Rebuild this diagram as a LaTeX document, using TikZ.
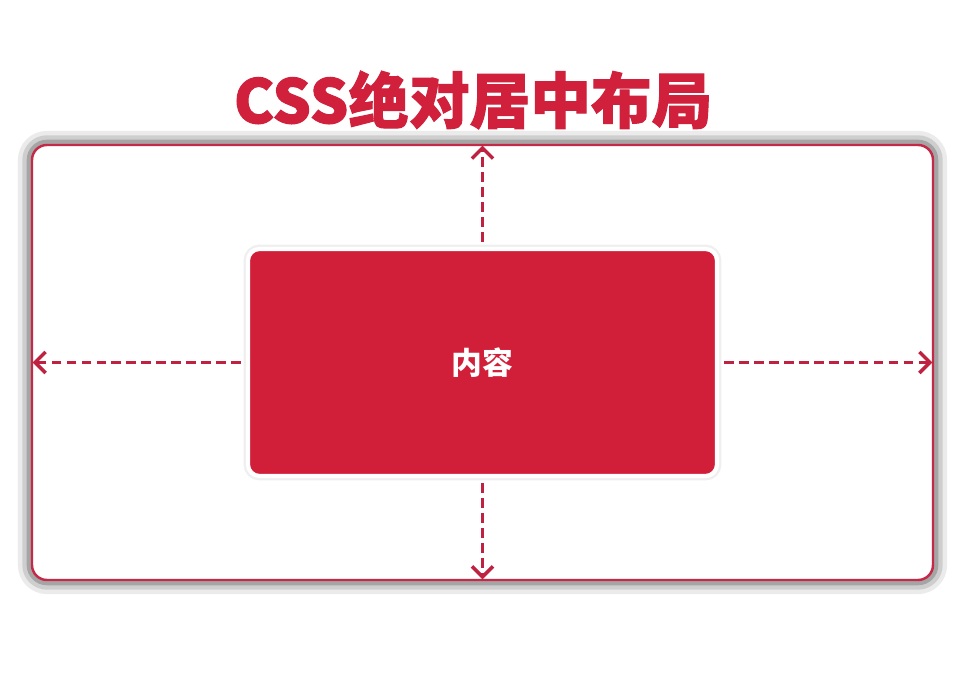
\documentclass[tikz,border=0pt]{standalone}
\usepackage{fontspec}
\usepackage{xcolor}
\usepackage{tikz}
\usetikzlibrary{arrows.meta}
\newfontfamily\cjk[BoldFeatures={FakeBold=1.6}]{Noto Sans CJK SC}
\newfontfamily\cjklabel{Noto Sans CJK SC}

\definecolor{titleRed}{HTML}{D0203C}
\definecolor{boxRed}{HTML}{D11F3A}
\definecolor{frameRed}{HTML}{C42A48}
\definecolor{arrowRed}{HTML}{BF2140}

\tikzset{
  framebox/.style={draw=frameRed, line width=1.4pt, fill=white, rounded corners=8.5pt,
    minimum width=18.02cm, minimum height=8.7cm,
    preaction={draw=black!65, line width=16pt, opacity=.12},
    preaction={draw=black!65, line width=11pt, opacity=.2},
    preaction={draw=black!65, line width=6pt, opacity=.35}},
  contentbox/.style={draw=white, line width=2.4pt, fill=boxRed, rounded corners=6.5pt,
    minimum width=9.38cm, minimum height=4.54cm,
    preaction={draw=black!40, line width=5pt, opacity=.15},
    text=white, font=\cjklabel\bfseries\fontsize{17.5}{20}\selectfont},
  gaparrow/.style={draw=arrowRed, line width=2.1pt, dash pattern=on 5.5pt off 3pt,
    -{Straight Barb[length=6pt,width=12pt,line width=2pt]}, shorten <=3pt, shorten >=1pt}
}

\begin{document}
\begin{tikzpicture}
\useasboundingbox (0,0) rectangle (19.24,-13.58);

\node[font=\cjk\bfseries\fontsize{34.5}{38}\selectfont, text=titleRed] (title) at (9.46,-2.0) {CSS绝对居中布局};

\node[framebox] (frame) at (9.65,-7.25) {};
\node[contentbox] (content) at (9.65,-7.25) {内容};

% four gaps, from the content box out to the frame
\foreach \side in {north,south,east,west}{
    \draw[gaparrow] (content.\side) -- (frame.\side);
}
\end{tikzpicture}
\end{document}
